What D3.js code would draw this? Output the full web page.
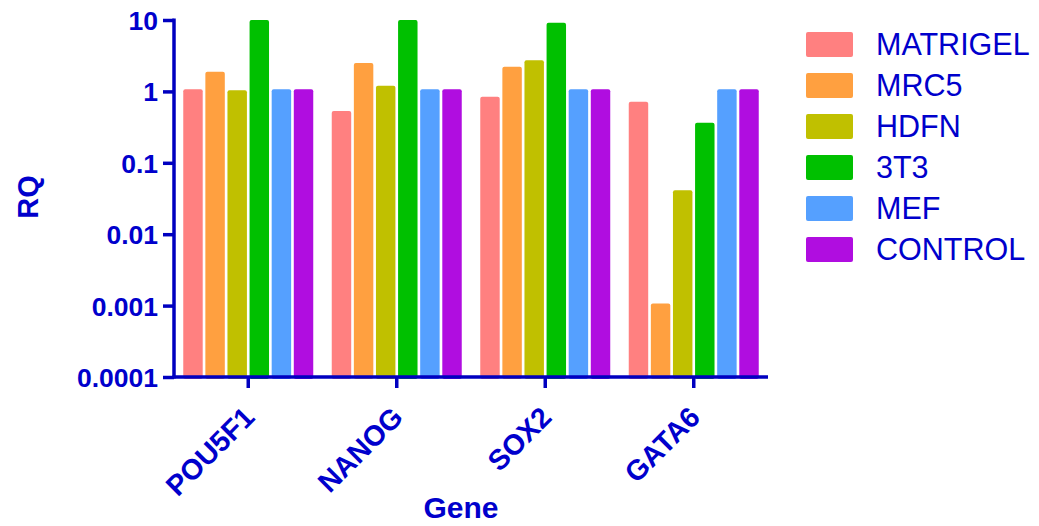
<!DOCTYPE html>
<html>
<head>
<meta charset="utf-8">
<script src="https://cdn.jsdelivr.net/npm/d3@7"></script>
<style>
  html, body { margin: 0; padding: 0; background: #fff; }
  svg { display: block; }
</style>
</head>
<body>
<svg id="chart" width="1039" height="526"></svg>
<script>
// ---- data ----
const genes = ["POU5F1", "NANOG", "SOX2", "GATA6"];
const seriesNames = ["MATRIGEL", "MRC5", "HDFN", "3T3", "MEF", "CONTROL"];
const seriesColors = ["#FF8080", "#FFA040", "#C0C000", "#00C000", "#55A0FF", "#B00DE0"];
const MATRIGEL = [1.07, 0.53, 0.84, 0.716];
const MRC5     = [1.89, 2.49, 2.21, 0.00107];
const HDFN     = [1.035, 1.2, 2.72, 0.0414];
const T3T3     = [12, 12, 9.17, 0.364];
const MEF      = [1.07, 1.07, 1.07, 1.07];
const CONTROL  = [1.07, 1.07, 1.07, 1.07];
const seriesValues = [MATRIGEL, MRC5, HDFN, T3T3, MEF, CONTROL];
const yTickValues = [0.0001, 0.001, 0.01, 0.1, 1, 10];
const yTickLabels = ["0.0001", "0.001", "0.01", "0.1", "1", "10"];

// ---- layout ----
const blue = "#0000C0";
const textBlue = "#0000CC";
const font = "'Liberation Sans', Arial, sans-serif";
const pLeft = 174, pRight = 768, pTop = 20, pBottom = 377;
const svg = d3.select("#chart");

const x0 = d3.scaleBand().domain(genes).range([pLeft, pRight])
  .paddingInner(0.1246).paddingOuter(0.0623);
const x1 = d3.scaleBand().domain(seriesNames).range([0, x0.bandwidth()])
  .paddingInner(0.12).paddingOuter(0);
const y = d3.scaleLog().domain([0.0001, 10]).range([pBottom, pTop]).clamp(true);
const color = d3.scaleOrdinal().domain(seriesNames).range(seriesColors);

// bars
const groups = svg.append("g").selectAll("g")
  .data(genes).join("g")
  .attr("transform", d => `translate(${x0(d)},0)`);

groups.selectAll("rect")
  .data((g, gi) => seriesNames.map((s, si) => ({ s, v: seriesValues[si][gi] })))
  .join("rect")
  .attr("x", d => x1(d.s))
  .attr("y", d => y(d.v))
  .attr("width", x1.bandwidth())
  .attr("height", d => pBottom - y(d.v) + 2)
  .attr("rx", 2)
  .attr("fill", d => color(d.s));

// y axis
const yAxis = d3.axisLeft(y)
  .tickValues(yTickValues)
  .tickFormat((d, i) => yTickLabels[i])
  .tickSize(11).tickPadding(5);
const gy = svg.append("g").attr("transform", `translate(${pLeft},0)`).call(yAxis);
gy.select(".domain").remove();
gy.append("line").attr("x1", 0).attr("x2", 0).attr("y1", pTop - 1.5).attr("y2", pBottom + 1.5)
  .attr("stroke", blue).attr("stroke-width", 3.5);
gy.selectAll(".tick line").attr("stroke", blue).attr("stroke-width", 3.5);
gy.selectAll(".tick text")
  .attr("fill", textBlue)
  .style("font-family", font)
  .style("font-weight", "bold")
  .style("font-size", "26.5px")
  .attr("dy", "0.36em");

// x axis
const xAxis = d3.axisBottom(x0).tickSize(11).tickSizeOuter(0).tickFormat("");
const gx = svg.append("g").attr("transform", `translate(0,${pBottom})`).call(xAxis);
gx.select(".domain").remove();
gx.append("line").attr("x1", pLeft - 1.5).attr("x2", pRight).attr("y1", 0).attr("y2", 0)
  .attr("stroke", blue).attr("stroke-width", 3.5);
gx.selectAll(".tick line").attr("stroke", blue).attr("stroke-width", 3.5);

// rotated category labels
svg.append("g").selectAll("text")
  .data(genes).join("text")
  .attr("transform", d => `translate(${x0(d) + x0.bandwidth() / 2 + 8},${pBottom + 42}) rotate(-45)`)
  .attr("text-anchor", "end")
  .attr("fill", textBlue)
  .style("font-family", font)
  .style("font-weight", "bold")
  .style("font-size", "28.5px")
  .text(d => d);

// axis titles
svg.append("text")
  .attr("transform", `translate(38,197) rotate(-90)`)
  .attr("text-anchor", "middle")
  .attr("fill", textBlue)
  .style("font-family", font)
  .style("font-weight", "bold")
  .style("font-size", "29px")
  .text("RQ");

svg.append("text")
  .attr("x", 461).attr("y", 518)
  .attr("text-anchor", "middle")
  .attr("fill", textBlue)
  .style("font-family", font)
  .style("font-weight", "bold")
  .style("font-size", "30px")
  .text("Gene");

// legend
const legend = svg.append("g").selectAll("g")
  .data(seriesNames).join("g")
  .attr("transform", (d, i) => `translate(806,${32 + i * 41})`);
legend.append("rect")
  .attr("width", 47).attr("height", 25).attr("rx", 2)
  .attr("fill", d => color(d));
legend.append("text")
  .attr("x", 70).attr("y", 23)
  .attr("fill", textBlue)
  .style("font-family", font)
  .style("font-size", "30.5px")
  .text(d => d);
</script>
</body>
</html>
